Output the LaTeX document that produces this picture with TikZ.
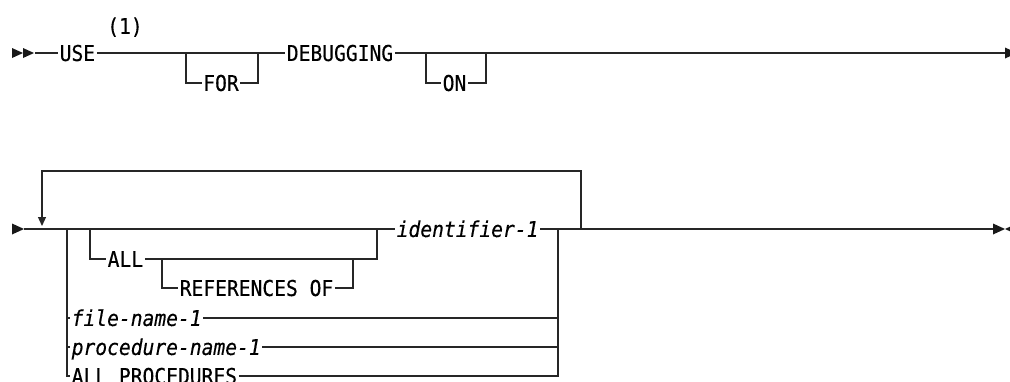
\documentclass[tikz,border=0pt]{standalone}
\usepackage{fontspec}
\usetikzlibrary{arrows.meta}
\newfontfamily\railfont[FakeStretch=0.9, FakeBold=0.4]{DejaVu Sans Mono}
\begin{document}
\begin{tikzpicture}[
        x=1pt, y=-1pt,
        every node/.style={inner xsep=1.5pt, inner ysep=0pt, text height=15.9pt, text depth=0pt, font=\railfont\fontsize{21.8}{22}\selectfont},
        word/.style={anchor=west},
        var/.style={anchor=west, font=\railfont\itshape\fontsize{21.8}{22}\selectfont},
        rail/.style={line width=1.3pt, draw=black!85},
        tip/.style={fill=black!90}
    ]
        \useasboundingbox (0,0) rectangle (1010,381);

        % first line
        \coordinate (s1) at (35,53);
        \node[word] (use)   at (58,53)  {USE};
        \node       (note)  at (125,26) {(1)};
        \node       (for)   at (221,83) {FOR};
        \node       (debug) at (340,53) {DEBUGGING};
        \node       (on)    at (454.5,83) {ON};
        \coordinate (forA) at (186,53);
        \coordinate (forB) at (258,53);
        \coordinate (onA)  at (426,53);
        \coordinate (onB)  at (486,53);
        \coordinate (e1)   at (1005,53);

        \fill[tip] (12,48) -- (23,53) -- (12,58) -- cycle;
        \fill[tip] (23,48) -- (34,53) -- (23,58) -- cycle;
        \draw[rail] (s1) -- (use);
        \draw[rail] (use) -- (debug);
        \draw[rail] (forA) |- (for) -| (forB);
        \draw[rail] (debug) -- (e1);
        \draw[rail] (onA) |- (on) -| (onB);
        \fill[tip] (1005,47.5) -- (1017,53) -- (1005,58.5) -- cycle;

        % second line
        \coordinate (s2) at (24,229);
        \coordinate (j1) at (67,229);
        \coordinate (j2) at (90,229);
        \coordinate (j3) at (377,229);
        \coordinate (j4) at (558,229);
        \coordinate (j5) at (581,229);
        \coordinate (k1) at (162,259);
        \coordinate (k2) at (353,259);
        \coordinate (top) at (42,171);
        \coordinate (back) at (42,226);
        \coordinate (e2) at (993,229);
        \node[var]  (ident)   at (395,229) {identifier-1};
        \node[word] (all)     at (106,259) {ALL};
        \node[word] (refs)    at (178,288) {REFERENCES OF};
        \node[var]  (file)    at (70,318)  {file-name-1};
        \node[var]  (proc)    at (70,347)  {procedure-name-1};
        \node[word] (allproc) at (70,376)  {ALL PROCEDURES};

        \fill[tip] (12,223.5) -- (24,229) -- (12,234.5) -- cycle;
        \draw[rail] (s2) -- (ident);
        \draw[rail] (ident) -- (e2);
        \draw[rail, -{Triangle[length=9pt, width=8pt]}] (j5) |- (top) -- (back);
        \draw[rail] (j2) |- (all) -| (j3);
        \draw[rail] (k1) |- (refs) -| (k2);
        \draw[rail] (j1) |- (allproc) -| (j4);
        \foreach \n in {file,proc}
            \draw[rail] (\n.west -| j1) -- (\n) -- (\n.east -| j4);
        \fill[tip] (993,223.5) -- (1005,229) -- (993,234.5) -- cycle;
        \fill[tip] (1017,223.5) -- (1005,229) -- (1017,234.5) -- cycle;
    \end{tikzpicture}
\end{document}
